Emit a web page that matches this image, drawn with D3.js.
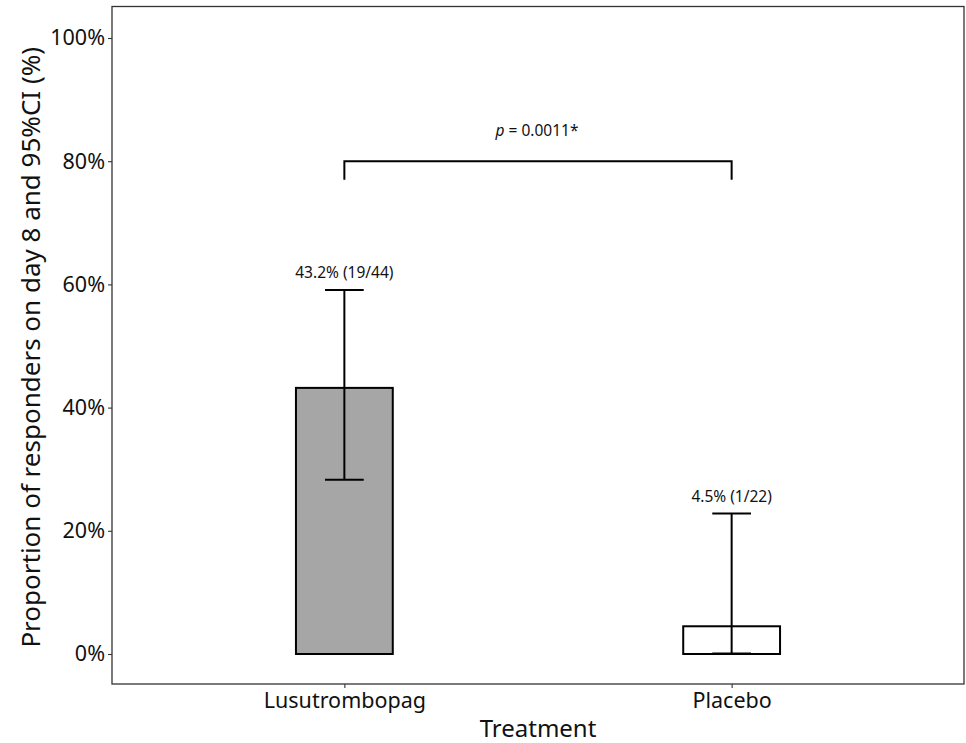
<!DOCTYPE html>
<html><head><meta charset="utf-8">
<script src="https://cdn.jsdelivr.net/npm/d3@7"></script>
<style>body{margin:0;background:#fff}text{font-family:"Noto Sans",sans-serif}</style>
</head><body><svg id="c" width="966" height="743"></svg>
<script>
const categories = ["Lusutrombopag", "Placebo"];
const proportions = [43.2, 4.5];
const ciLower = [28.3, 0.1];
const ciUpper = [59.1, 22.8];
const barLabels = ["43.2% (19/44)", "4.5% (1/22)"];
const barFills = ["#a6a6a6", "#ffffff"];
const yTicks = [0, 20, 40, 60, 80, 100];
const bracketY = 80, bracketDrop = 77;
const pText = "0.0011*";

const svg = d3.select("#c");
const L = 112, R = 964, T = 6.5, B = 684;
const y = d3.scaleLinear().domain([0, 100]).range([654, 38]);
const xc = d3.scaleLinear().domain([0.4, 2.6]).range([L, R]);
const bw = xc(1.125) - xc(0.875);
const cap = xc(1.05) - xc(0.95);

// axes
const yAxis = d3.axisLeft(y).tickValues(yTicks).tickFormat(d => d + "%").tickSize(4).tickPadding(3);
const gy = svg.append("g").attr("transform", `translate(${L},0)`).call(yAxis);
gy.select(".domain").remove();
gy.selectAll("line").attr("stroke", "#333").attr("stroke-width", 1.1);
gy.selectAll("text").attr("font-size", 21.5).attr("fill", "#111");

const xb = d3.scalePoint().domain(categories).range([xc(1), xc(2)]);
const xAxis = d3.axisBottom(xb).tickSize(4).tickPadding(5);
const gx = svg.append("g").attr("transform", `translate(0,${B})`).call(xAxis);
gx.select(".domain").remove();
gx.selectAll("line").attr("stroke", "#333").attr("stroke-width", 1.1);
gx.selectAll("text").attr("font-size", 21.5).attr("fill", "#111");

// bars
categories.forEach((c, i) => {
  const cx = xb(c);
  svg.append("rect").attr("x", cx - bw/2).attr("y", y(proportions[i]))
    .attr("width", bw).attr("height", y(0) - y(proportions[i]))
    .attr("fill", barFills[i]).attr("stroke", "#000").attr("stroke-width", 2);
  const g = svg.append("g").attr("stroke", "#000").attr("stroke-width", 2);
  g.append("line").attr("x1", cx).attr("x2", cx).attr("y1", y(ciLower[i])).attr("y2", y(ciUpper[i]));
  g.append("line").attr("x1", cx - cap/2).attr("x2", cx + cap/2).attr("y1", y(ciLower[i])).attr("y2", y(ciLower[i]));
  g.append("line").attr("x1", cx - cap/2).attr("x2", cx + cap/2).attr("y1", y(ciUpper[i])).attr("y2", y(ciUpper[i]));
  svg.append("text").attr("x", cx).attr("y", y(ciUpper[i]) - 12).attr("text-anchor", "middle")
    .attr("font-size", 15.5).attr("fill", "#111").text(barLabels[i]);
});

// bracket
const x1 = xb(categories[0]), x2 = xb(categories[1]);
svg.append("path").attr("d", `M${x1},${y(bracketDrop)}V${y(bracketY)}H${x2}V${y(bracketDrop)}`)
  .attr("fill", "none").attr("stroke", "#000").attr("stroke-width", 2);
const pt = svg.append("text").attr("x", (x1 + x2)/2 - 1).attr("y", y(bracketY) - 25).attr("text-anchor", "middle")
  .attr("font-size", 15.5).attr("fill", "#111");
pt.append("tspan").attr("font-style", "italic").text("p");
pt.append("tspan").text(" = " + pText);

// panel border
svg.append("rect").attr("x", L).attr("y", T).attr("width", R - L).attr("height", B - T)
  .attr("fill", "none").attr("stroke", "#333").attr("stroke-width", 1.3);

// titles
svg.append("text").attr("x", (L + R)/2).attr("y", 737).attr("text-anchor", "middle")
  .attr("font-size", 24).attr("fill", "#111").text("Treatment");
svg.append("text").attr("transform", `translate(40,${(T + B)/2 + 2}) rotate(-90)`).attr("text-anchor", "middle")
  .attr("font-size", 26).attr("fill", "#111").text("Proportion of responders on day 8 and 95%CI (%)");
</script></body></html>
